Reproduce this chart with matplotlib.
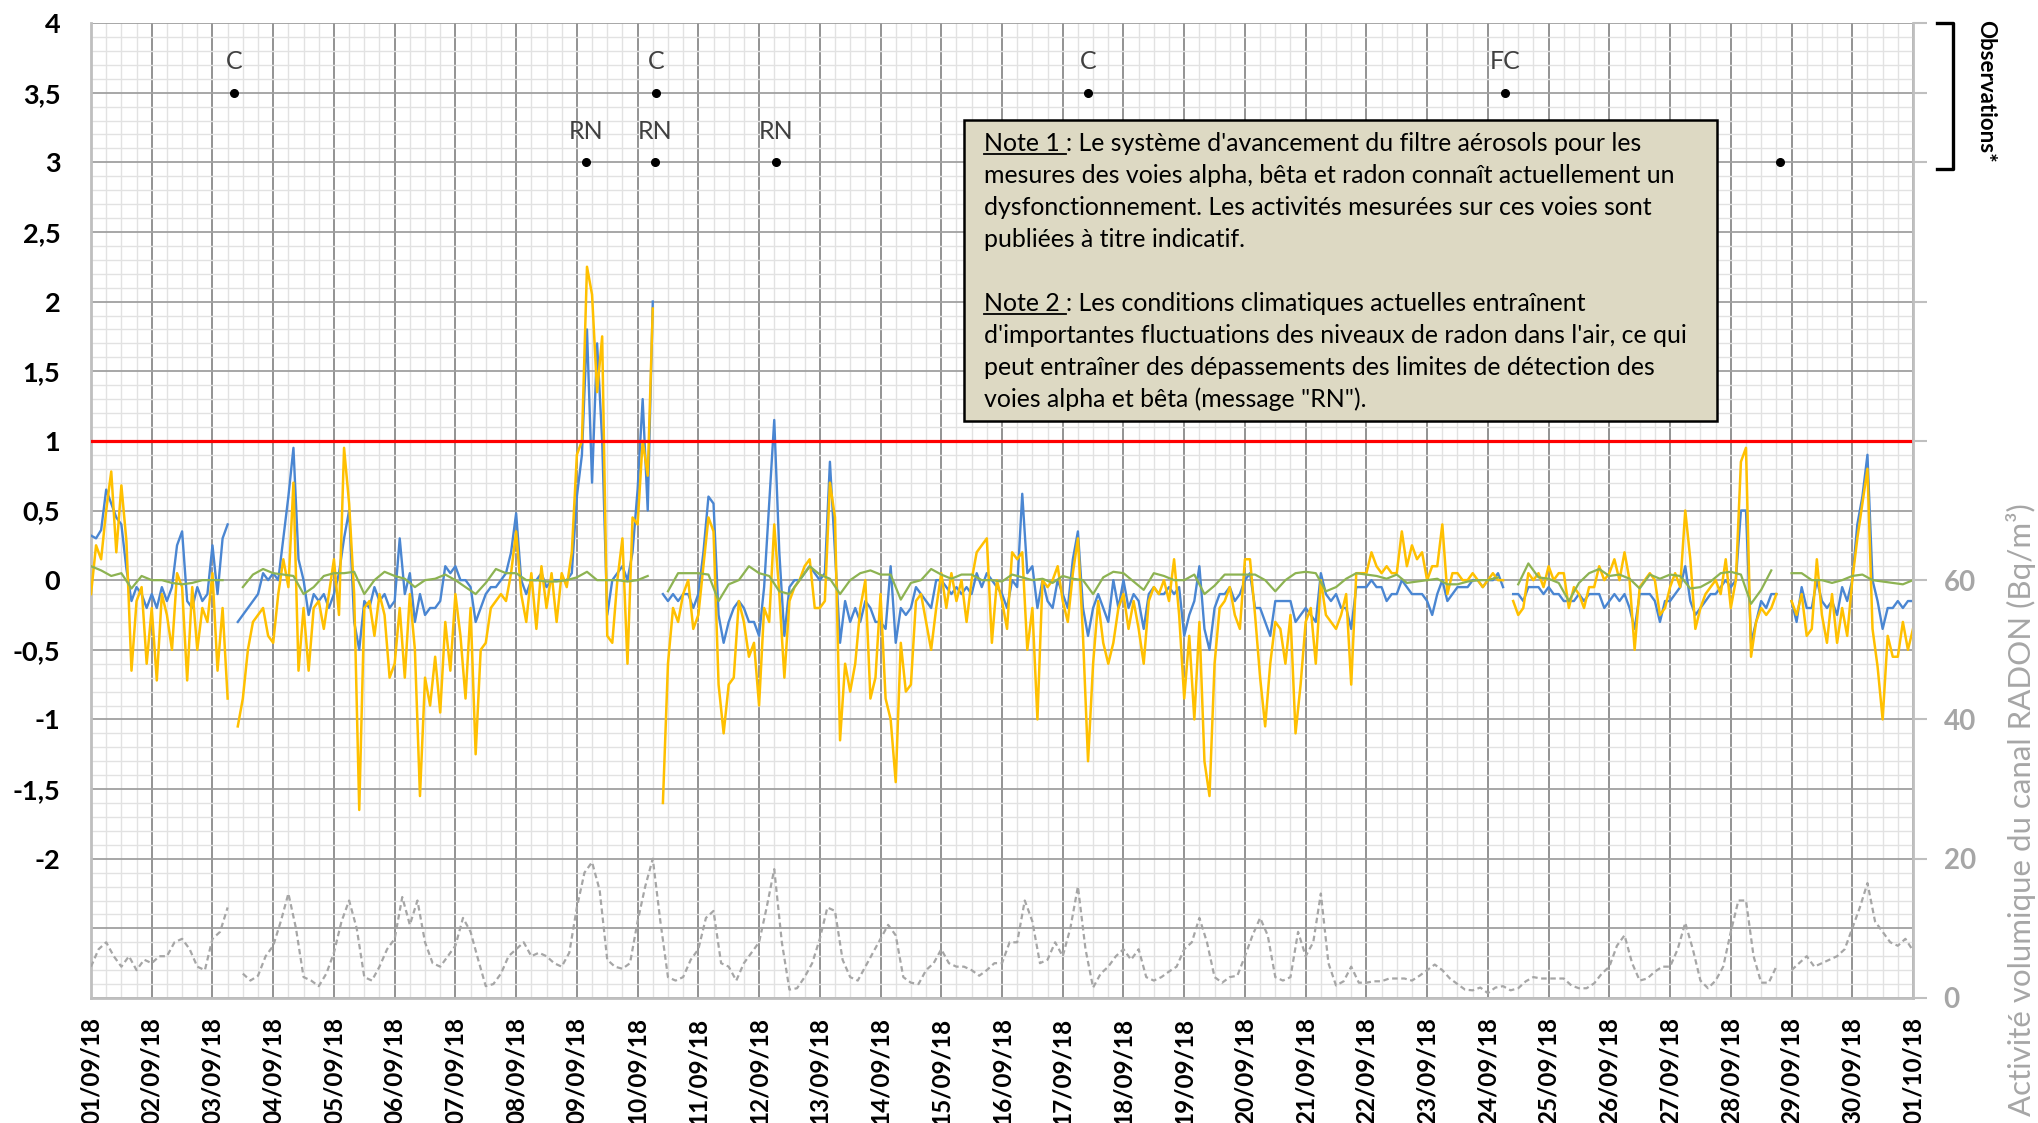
import numpy as np
import matplotlib
matplotlib.use("Agg")
import matplotlib.pyplot as plt
from matplotlib.patches import Rectangle
from matplotlib.lines import Line2D

plt.rcParams['font.family'] = ['Lato', 'DejaVu Sans']

# ---------------- data ----------------
date_labels = ['01/09/18', '02/09/18', '03/09/18', '04/09/18', '05/09/18', '06/09/18',
               '07/09/18', '08/09/18', '09/09/18', '10/09/18', '11/09/18', '12/09/18',
               '13/09/18', '14/09/18', '15/09/18', '16/09/18', '17/09/18', '18/09/18',
               '19/09/18', '20/09/18', '21/09/18', '22/09/18', '23/09/18', '24/09/18',
               '25/09/18', '26/09/18', '27/09/18', '28/09/18', '29/09/18', '30/09/18',
               '01/10/18']
nan = np.nan

# blue channel, one value every 2 h (12 per day) + final point
blue = [
    0.32, 0.30, 0.36, 0.65, 0.55, 0.45, 0.40, 0.08, -0.15, -0.05, -0.10, -0.20,
    -0.10, -0.20, -0.05, -0.15, -0.05, 0.25, 0.35, -0.15, -0.20, -0.05, -0.15, -0.10,
    0.25, -0.10, 0.30, 0.40, nan, -0.30, -0.25, -0.20, -0.15, -0.10, 0.05, 0.00,
    0.05, 0.00, 0.30, 0.60, 0.95, 0.15, 0.00, -0.25, -0.10, -0.15, -0.10, -0.20,
    -0.10, 0.05, 0.30, 0.50, -0.30, -0.50, -0.15, -0.20, -0.05, -0.15, -0.10, -0.20,
    -0.15, 0.30, -0.10, 0.05, -0.30, -0.10, -0.25, -0.20, -0.20, -0.15, 0.10, 0.05,
    0.10, 0.00, 0.00, -0.05, -0.30, -0.20, -0.10, -0.05, -0.05, 0.00, 0.05, 0.20,
    0.48, 0.00, -0.10, 0.00, 0.00, 0.05, -0.05, 0.00, 0.00, 0.00, 0.00, 0.05,
    0.60, 0.90, 1.80, 0.70, 1.70, 1.00, -0.25, 0.00, 0.05, 0.10, 0.00, 0.20,
    0.65, 1.30, 0.50, 2.00, nan, -0.10, -0.15, -0.10, -0.15, -0.10, -0.10, -0.20,
    -0.10, 0.20, 0.60, 0.55, -0.25, -0.45, -0.30, -0.20, -0.15, -0.20, -0.30, -0.30,
    -0.40, -0.05, 0.55, 1.15, 0.20, -0.40, -0.05, 0.00, 0.00, 0.05, 0.10, 0.05,
    0.00, 0.05, 0.85, 0.20, -0.45, -0.15, -0.30, -0.20, -0.30, -0.15, -0.20, -0.30,
    -0.30, -0.35, 0.10, -0.45, -0.20, -0.25, -0.20, -0.05, -0.10, -0.15, -0.20, 0.00,
    0.00, -0.05, -0.10, -0.05, -0.10, -0.05, -0.10, 0.05, -0.05, 0.05, 0.00, -0.05,
    -0.10, -0.20, 0.00, -0.05, 0.62, 0.05, 0.10, -0.20, 0.00, -0.15, -0.20, 0.00,
    -0.10, -0.20, 0.15, 0.35, -0.20, -0.40, -0.20, -0.10, -0.20, -0.30, 0.00, -0.20,
    0.00, -0.20, -0.10, -0.15, -0.35, -0.10, -0.05, -0.10, -0.10, -0.05, -0.10, -0.05,
    -0.40, -0.25, -0.15, 0.10, -0.35, -0.50, -0.20, -0.10, -0.10, -0.05, -0.15, -0.10,
    0.00, 0.05, -0.20, -0.20, -0.30, -0.40, -0.15, -0.15, -0.15, -0.15, -0.30, -0.25,
    -0.20, -0.25, -0.30, 0.05, -0.10, -0.15, -0.10, -0.20, -0.20, -0.35, -0.05, -0.05,
    -0.05, 0.00, -0.05, -0.05, -0.15, -0.10, -0.10, 0.00, -0.05, -0.10, -0.10, -0.10,
    -0.15, -0.25, -0.10, 0.00, -0.15, -0.10, -0.05, -0.05, -0.05, 0.00, 0.00, -0.05,
    0.00, 0.00, 0.05, -0.05, nan, -0.10, -0.10, -0.15, -0.05, -0.05, -0.05, -0.10,
    -0.05, -0.10, -0.10, -0.15, -0.15, -0.15, -0.10, -0.15, -0.10, -0.10, -0.10, -0.20,
    -0.15, -0.10, -0.15, -0.10, -0.20, -0.35, -0.10, -0.10, -0.10, -0.15, -0.30, -0.15,
    -0.15, -0.10, -0.05, 0.10, -0.15, -0.25, -0.20, -0.15, -0.10, -0.10, -0.05, 0.00,
    -0.05, 0.00, 0.50, 0.50, -0.45, -0.30, -0.15, -0.20, -0.10, -0.10, nan, nan,
    -0.15, -0.30, -0.05, -0.20, -0.20, 0.00, -0.15, -0.20, -0.15, -0.25, -0.05, -0.15,
    0.00, 0.40, 0.60, 0.90, 0.00, -0.15, -0.35, -0.20, -0.20, -0.15, -0.20, -0.15,
    -0.15]

# yellow channel, one value every 2 h
yellow = [
    -0.10, 0.25, 0.15, 0.50, 0.78, 0.20, 0.68, 0.28, -0.65, -0.15, -0.05, -0.60,
    -0.20, -0.72, -0.10, -0.25, -0.50, 0.05, -0.05, -0.72, -0.05, -0.50, -0.20, -0.30,
    0.05, -0.65, -0.20, -0.85, nan, -1.05, -0.85, -0.50, -0.30, -0.25, -0.20, -0.40,
    -0.45, -0.10, 0.15, -0.05, 0.70, -0.65, -0.20, -0.65, -0.20, -0.15, -0.35, -0.10,
    0.15, -0.25, 0.95, 0.55, -0.10, -1.65, -0.20, -0.15, -0.40, -0.10, -0.25, -0.70,
    -0.60, -0.20, -0.70, -0.10, -0.50, -1.55, -0.70, -0.90, -0.55, -0.95, -0.30, -0.65,
    -0.10, -0.40, -0.85, -0.20, -1.25, -0.50, -0.45, -0.20, -0.15, -0.10, -0.15, 0.05,
    0.35, -0.10, -0.30, 0.05, -0.35, 0.10, -0.20, 0.05, -0.30, 0.05, -0.05, 0.20,
    0.90, 1.00, 2.25, 2.05, 1.35, 1.75, -0.40, -0.45, 0.00, 0.30, -0.60, 0.45,
    0.40, 1.00, 0.75, 1.95, nan, -1.60, -0.60, -0.20, -0.30, -0.10, 0.00, -0.35,
    -0.25, 0.10, 0.45, 0.35, -0.75, -1.10, -0.75, -0.70, -0.15, -0.30, -0.55, -0.45,
    -0.90, -0.20, -0.30, 0.40, -0.10, -0.70, -0.15, -0.05, 0.00, 0.10, 0.15, -0.20,
    -0.20, -0.15, 0.70, 0.45, -1.15, -0.60, -0.80, -0.60, -0.20, 0.00, -0.85, -0.70,
    -0.10, -0.85, -1.00, -1.45, -0.45, -0.80, -0.75, -0.15, -0.10, -0.30, -0.50, -0.20,
    0.05, -0.20, 0.05, -0.15, 0.00, -0.30, 0.00, 0.20, 0.25, 0.30, -0.45, 0.00,
    -0.15, -0.35, 0.20, 0.15, 0.20, -0.50, -0.20, -1.00, 0.00, -0.05, 0.00, 0.10,
    -0.15, -0.30, 0.05, 0.30, -0.40, -1.30, -0.60, -0.15, -0.45, -0.60, -0.45, -0.20,
    -0.10, -0.35, -0.15, -0.35, -0.60, -0.15, -0.05, -0.10, 0.00, -0.15, 0.15, -0.25,
    -0.85, -0.40, -1.00, -0.30, -1.30, -1.55, -0.60, -0.20, -0.15, -0.05, -0.25, -0.35,
    0.15, 0.15, -0.25, -0.70, -1.05, -0.60, -0.30, -0.35, -0.60, -0.25, -1.10, -0.75,
    -0.30, -0.20, -0.60, 0.00, -0.25, -0.30, -0.35, -0.25, -0.10, -0.75, 0.05, 0.05,
    0.05, 0.20, 0.10, 0.05, 0.10, 0.05, 0.05, 0.35, 0.10, 0.25, 0.15, 0.20,
    0.00, 0.10, 0.10, 0.40, -0.10, 0.05, 0.05, 0.00, 0.00, 0.05, 0.00, -0.05,
    0.00, 0.05, 0.00, 0.00, nan, -0.15, -0.25, -0.20, 0.05, 0.00, 0.05, -0.05,
    0.10, 0.00, 0.05, 0.05, -0.20, -0.05, -0.10, -0.20, -0.05, -0.05, 0.10, 0.00,
    0.05, 0.15, 0.00, 0.20, 0.00, -0.50, -0.05, 0.00, 0.05, 0.00, -0.25, -0.20,
    -0.05, 0.05, -0.05, 0.50, 0.15, -0.35, -0.20, -0.10, -0.05, 0.00, -0.10, 0.15,
    -0.20, 0.00, 0.85, 0.95, -0.55, -0.30, -0.20, -0.25, -0.20, -0.10, nan, nan,
    -0.15, -0.25, -0.10, -0.40, -0.35, 0.15, -0.25, -0.45, -0.10, -0.45, -0.20, -0.40,
    0.00, 0.30, 0.55, 0.80, -0.35, -0.62, -1.00, -0.40, -0.55, -0.55, -0.30, -0.50,
    -0.35]

# green channel, one value every 4 h (6 per day)
green = [
    0.10, 0.07, 0.03, 0.05, -0.06, 0.03,
    0.00, 0.00, -0.02, -0.03, -0.02, 0.00,
    0.00, 0.00, nan, -0.05, 0.04, 0.08,
    0.05, 0.04, 0.03, -0.10, -0.05, 0.03,
    0.05, 0.05, 0.06, -0.10, 0.00, 0.06,
    0.03, 0.01, -0.05, 0.00, 0.01, 0.04,
    0.00, -0.05, -0.10, -0.02, 0.08, 0.05,
    0.05, 0.00, 0.00, -0.01, -0.01, 0.00,
    0.02, 0.06, 0.00, 0.00, 0.00, -0.01,
    0.00, 0.03, nan, -0.08, 0.05, 0.05,
    0.05, 0.04, -0.15, -0.03, 0.00, 0.10,
    0.05, 0.03, -0.08, -0.10, 0.00, 0.10,
    0.04, 0.01, -0.10, 0.00, 0.05, 0.07,
    0.04, 0.04, -0.14, -0.02, 0.00, 0.08,
    0.04, 0.01, 0.04, 0.04, 0.00, 0.00,
    -0.01, 0.04, 0.02, 0.00, 0.01, -0.02,
    0.03, 0.01, 0.00, -0.10, 0.02, 0.06,
    0.05, -0.01, -0.07, 0.05, 0.03, 0.00,
    0.00, 0.04, -0.10, -0.04, 0.04, 0.04,
    0.04, 0.04, 0.00, -0.08, 0.00, 0.05,
    0.06, 0.05, -0.08, -0.05, 0.01, 0.05,
    0.04, 0.03, 0.01, 0.04, -0.02, -0.01,
    0.00, 0.01, -0.03, -0.03, -0.01, 0.00,
    0.00, 0.02, nan, -0.03, 0.12, 0.02,
    0.01, -0.02, -0.15, -0.02, 0.05, 0.08,
    0.03, 0.04, 0.01, -0.06, 0.04, 0.01,
    0.04, 0.03, -0.06, -0.05, -0.01, 0.05,
    0.06, 0.04, -0.17, -0.07, 0.07, nan,
    0.05, 0.05, 0.00, 0.00, -0.02, 0.00,
    0.03, 0.04, 0.00, -0.01, -0.02, -0.03,
    0.00]

# radon volumic activity (Bq/m3), one value every 3 h (8 per day)
radon = [
    4.5, 7, 8, 6, 4.5, 6, 4, 5.5,
    5, 6, 6, 8, 8.5, 7, 4.5, 4,
    8.5, 9.5, 13, nan, 3.5, 2.5, 3.2, 6,
    7.5, 11, 15, 10, 3, 2.5, 1.7, 3.5,
    6.5, 11, 14, 10, 3, 2.5, 4.5, 7,
    8.5, 14.5, 10.5, 14, 8, 5, 4.5, 6,
    7.5, 11.5, 9.5, 5.5, 1.7, 2, 3.5, 6,
    7, 8, 6, 6.5, 6, 5, 4.5, 6.5,
    13, 18, 19.5, 15.5, 5.5, 4.5, 4.2, 5,
    11, 16, 20, 11, 3, 2.5, 3, 5.5,
    7, 11.5, 12.5, 5, 4.5, 2.5, 5, 6.5,
    8, 13, 18.5, 8, 1.2, 1.4, 3, 5,
    8.5, 13, 12.5, 5.5, 3, 2.5, 4.5, 6.5,
    8.5, 10.5, 9, 3, 2.2, 2, 4, 5,
    7, 5, 4.5, 4.5, 4, 3.2, 4, 5,
    5, 8, 8, 14, 11, 5, 5.5, 8,
    6, 10, 16, 7, 1.5, 3.5, 4.5, 6,
    7, 5.5, 7, 3, 2.5, 3, 3.8, 4.5,
    7, 8, 11.5, 8, 3, 2.2, 3, 3.2,
    6, 9, 11.5, 9, 3, 2.5, 3, 9.5,
    6, 8, 15, 5, 1.8, 2.4, 4.5, 2.2,
    2.2, 2.4, 2.4, 2.8, 2.8, 2.8, 2.5, 3.2,
    4, 4.8, 4, 2.8, 2, 1.2, 1.1, 1.5,
    0.7, 1.5, 1.7, 1.1, 1.4, 2.4, 3, 2.8,
    2.8, 2.8, 2.8, 1.8, 1.4, 1.4, 2.1, 3.5,
    4.5, 7.5, 9, 5, 2.5, 2.8, 3.8, 4.5,
    4.5, 7, 10.8, 7, 2.5, 1.4, 2.5, 4.5,
    9.5, 14, 14, 6, 2.2, 2.2, 4.5, nan,
    4, 5, 6, 4.5, 5, 5.5, 6, 7,
    10, 13, 16.5, 11, 9.5, 8, 7.5, 8.5,
    6.8]

threshold = 1.0

# observations (day offset from 01/09/18 00:00)
obs_x = [2.36, 9.31, 16.42, 23.28, 8.15, 9.28, 11.28, 27.81]
obs_y = [3.5, 3.5, 3.5, 3.5, 3.0, 3.0, 3.0, 3.0]
obs_label = ['C', 'C', 'C', 'FC', 'RN', 'RN', 'RN', '']

ytick_vals = [-3, -2.5, -2, -1.5, -1, -0.5, 0, 0.5, 1, 1.5, 2, 2.5, 3, 3.5, 4]
ytick_labels = ['', '', '-2', '-1,5', '-1', '-0,5', '0', '0,5', '1', '1,5', '2', '2,5', '3', '3,5', '4']
rtick_vals = [0, 20, 40, 60, 80, 100, 120, 130, 140]
rtick_labels = ['0', '20', '40', '60', '', '', '', '', '']

note_lines = [
    ("Note 1 ", ": Le système d'avancement du filtre aérosols pour les"),
    ("", "mesures des voies alpha, bêta et radon connaît actuellement un"),
    ("", "dysfonctionnement. Les activités mesurées sur ces voies sont"),
    ("", "publiées à titre indicatif."),
    ("", ""),
    ("Note 2 ", ": Les conditions climatiques actuelles entraînent"),
    ("", "d'importantes fluctuations des niveaux de radon dans l'air, ce qui"),
    ("", "peut entraîner des dépassements des limites de détection des"),
    ("", "voies alpha et bêta (message \"RN\")."),
]

# ---------------- figure ----------------
W, H = 2038, 1123
fig = plt.figure(figsize=(W / 100, H / 100), dpi=100)
renderer = fig.canvas.get_renderer()
L, R, T, B = 91, 1913, 23, 998


def fx(px):
    return px / W


def fy(py):
    return 1 - py / H


def fit_length(txt, target_px):
    # scale a rotated text so that its length on screen is target_px
    bb = txt.get_window_extent(renderer)
    length = max(bb.width, bb.height)
    txt.set_fontsize(txt.get_fontsize() * target_px / length)


ax = fig.add_axes([fx(L), fy(B), (R - L) / W, (B - T) / H])
ax.set_xlim(0, 30)
ax.set_ylim(-3, 4)

ax.set_xticks(np.arange(len(date_labels)), labels=date_labels, rotation=90,
              fontsize=17.5, fontweight='bold')
ax.set_xticks(np.arange(0, 30.001, 0.25), minor=True)
ax.set_yticks(ytick_vals, labels=ytick_labels, fontsize=19.5, fontweight='bold')
ax.set_yticks(np.arange(-3, 4.001, 0.1), minor=True)
ax.tick_params(axis='both', which='both', length=0)
ax.tick_params(axis='x', pad=14)
ax.tick_params(axis='y', pad=22)
ax.grid(which='minor', color='#E2E2E2', lw=1.0)
ax.grid(which='major', axis='x', color='#8A8A8A', lw=1.3)
ax.grid(which='major', axis='y', color='#A0A0A0', lw=1.3)
ax.set_axisbelow(True)
for s in ['left', 'bottom']:
    ax.spines[s].set_color('#BFBFBF')
    ax.spines[s].set_linewidth(2)
ax.spines['top'].set_visible(False)
ax.spines['right'].set_visible(False)

t2 = np.arange(len(blue)) / 12.0
t4 = np.arange(len(green)) / 6.0
t3 = np.arange(len(radon)) / 8.0

ax.plot(t2, blue, color='#4A86D2', lw=1.7, zorder=3)
ax.plot(t2, yellow, color='#FFC000', lw=1.8, zorder=4)
ax.plot(t4, green, color='#8DB352', lw=1.6, zorder=5)
ax.axhline(threshold, color='#FF0000', lw=2.3, zorder=6)

ax.plot(obs_x, obs_y, 'o', color='black', ms=5.5, zorder=7, clip_on=False)
for x, y, lab in zip(obs_x, obs_y, obs_label):
    if lab:
        ax.text(x, y + 0.223, lab, ha='center', va='center', fontsize=18,
                color='#404040', zorder=7)

ax2 = ax.twinx()
ax2.set_ylim(0, 140)
ax2.set_yticks(rtick_vals, labels=rtick_labels, fontsize=20, fontweight='bold',
               color='#A6A6A6')
ax2.tick_params(axis='y', length=10, color='#BFBFBF', width=1.5, pad=12)
for s in ['left', 'top', 'bottom']:
    ax2.spines[s].set_visible(False)
ax2.spines['right'].set_color('#BFBFBF')
ax2.spines['right'].set_linewidth(2)
ax2.plot(t3, radon, color='#A6A6A6', lw=1.6, dashes=(2.5, 1.6), zorder=3)

# right axis title
rt = fig.text(fx(2021), fy(810), 'Activité volumique du canal RADON (Bq/m³)', rotation=90,
              ha='center', va='center', fontsize=20, color='#A6A6A6')
fit_length(rt, 615)

# observations bracket
fig.add_artist(Line2D([fx(1937), fx(1953), fx(1953), fx(1937)],
                      [fy(23), fy(23), fy(169), fy(169)],
                      transform=fig.transFigure, color='black', lw=2.4))
ot = fig.text(fx(1986), fy(91), 'Observations*', rotation=-90, ha='center', va='center',
              fontsize=16.7, fontweight='bold', color='black')
fit_length(ot, 142)

# note box
bx0, by0, bx1, by1 = 964, 120, 1717, 421
fig.add_artist(Rectangle((fx(bx0), fy(by1)), (bx1 - bx0) / W, (by1 - by0) / H,
                         transform=fig.transFigure, facecolor='#DDD9C3',
                         edgecolor='black', lw=1.8, zorder=10))
note_fs = 17.9
for i, (ul, rest) in enumerate(note_lines):
    base = 151 + i * 32
    xpix = 984
    if ul:
        t = fig.text(fx(xpix), fy(base), ul, ha='left', va='baseline', fontsize=note_fs,
                     color='black', zorder=11)
        bb = t.get_window_extent(renderer)
        fig.add_artist(Line2D([fx(xpix), fx(xpix + bb.width)], [fy(base + 3), fy(base + 3)],
                              transform=fig.transFigure, color='black', lw=1.3, zorder=11))
        xpix += bb.width
    if rest:
        fig.text(fx(xpix), fy(base), rest, ha='left', va='baseline', fontsize=note_fs,
                 color='black', zorder=11)

fig.savefig('out.png', dpi=100)
